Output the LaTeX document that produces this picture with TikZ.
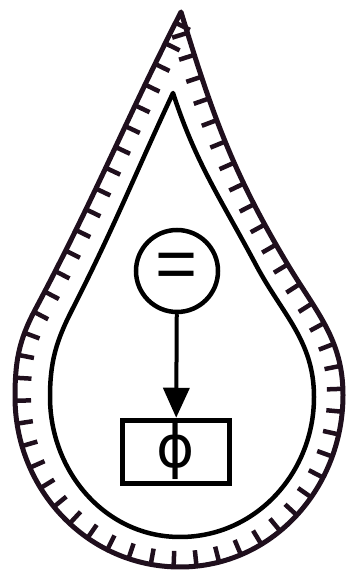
\documentclass[tikz,border=0pt]{standalone}
\usepackage{fontspec}
\setmainfont{Liberation Sans}
\newfontfamily\phifont{DejaVu Sans}
\usetikzlibrary{arrows.meta,decorations.markings}
\definecolor{cRim}{HTML}{1F0F1D}
\tikzset{
  rim/.style ={draw=cRim, line width=5pt, line join=round,
               postaction={decorate, decoration={markings,
                 mark=between positions 12pt and 1 step 23pt with
                 {\draw[cRim, line width=4.5pt] (0,0) -- (0,16pt);}}}},
  wall/.style={draw=black, line width=4.5pt, line join=round},
  op/.style  ={circle, draw, line width=4.5pt, minimum size=82pt, inner sep=0pt,
               font=\fontsize{72}{72}\selectfont},
  var/.style ={rectangle, draw, line width=5.5pt, minimum width=107pt,
               minimum height=63pt, inner sep=0pt, font=\phifont\fontsize{58}{58}\selectfont},
  fl/.style  ={-{Triangle[length=30pt, width=26pt]}, line width=4pt},
}
\begin{document}
\begin{tikzpicture}[x=1pt,y=1pt]
  \useasboundingbox (0,0) rectangle (347,572);
  % outer skin with ticks
  \draw[rim] (181,560) to[out=243,in=62] (35,262) to[out=242,in=90] (15,175)
    to[out=270,in=180] (180,5) to[out=0,in=270] (343,177)
    to[out=90,in=-59] (288,307) to[out=121,in=-73] cycle;
  % inner wall
  \draw[wall] (173,479) to[out=245,in=63] (72,262) to[out=243,in=90] (50,175)
    to[out=270,in=180] (180,35) to[out=0,in=270] (314,175)
    to[out=90,in=-62] (256,307) to[out=118,in=-72] cycle;
  \node[op] (eq) at (177,301) {=};
  \node[var] (phi) at (176,120) {ϕ};
  \draw[fl] (eq) -- (phi);
\end{tikzpicture}
\end{document}
